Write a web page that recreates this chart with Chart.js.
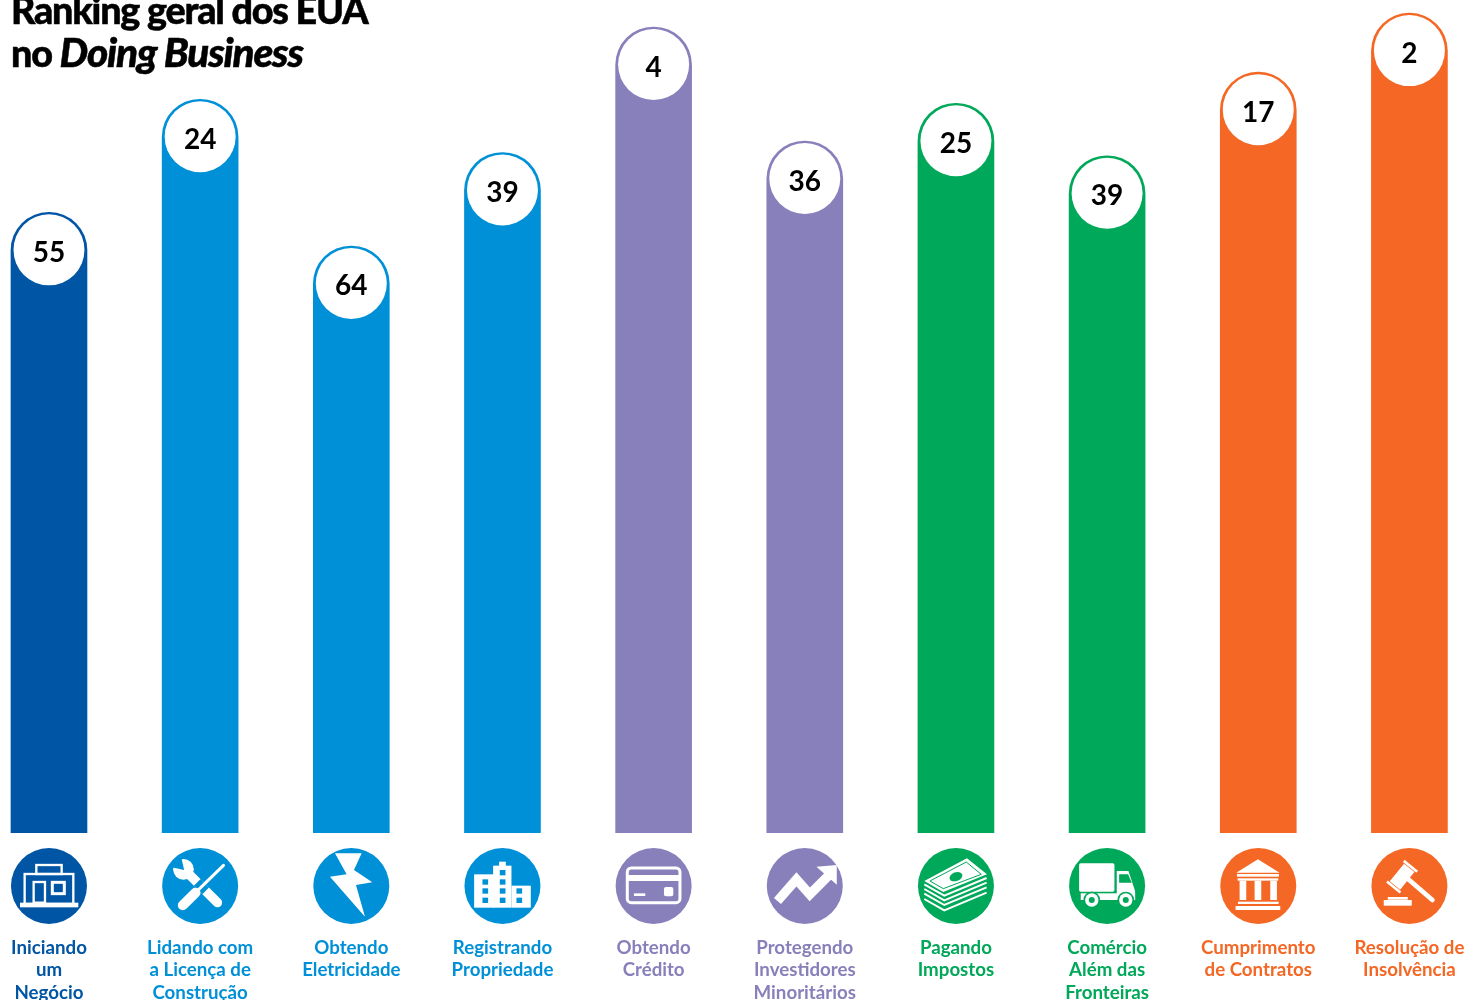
<!DOCTYPE html>
<html>
<head>
<meta charset="utf-8">
<title>Ranking geral dos EUA no Doing Business</title>
<script src="https://cdn.jsdelivr.net/npm/chart.js@4/dist/chart.umd.js"></script>
<style>
  html, body { margin: 0; padding: 0; background: #fff; overflow: hidden; width: 1465px; height: 1000px; }
  #wrap { position: absolute; left: -27px; top: 0; width: 1512px; height: 1000px; }
  #title { position: absolute; left: 11px; top: -11px; font: 900 37.7px/42px Lato, sans-serif; letter-spacing: -1.2px; color: #000; white-space: nowrap; -webkit-text-stroke: 0.5px #000; }
  #title i { font-size: 40.5px; }
</style>
</head>
<body>
<div id="wrap"><canvas id="myChart"></canvas></div>
<div id="title">Ranking geral dos EUA<br>no <i>Doing Business</i></div>
<script>
const categories = [
  ['Iniciando', 'um', 'Negócio'],
  ['Lidando com', 'a Licença de', 'Construção'],
  ['Obtendo', 'Eletricidade'],
  ['Registrando', 'Propriedade'],
  ['Obtendo', 'Crédito'],
  ['Protegendo', 'Investidores', 'Minoritários'],
  ['Pagando', 'Impostos'],
  ['Comércio', 'Além das', 'Fronteiras'],
  ['Cumprimento', 'de Contratos'],
  ['Resolução de', 'Insolvência']
];
const scores = [75.7, 89.5, 71.6, 83, 98.3, 84.4, 89, 82.6, 92.8, 100];
const ranks = [55, 24, 64, 39, 4, 36, 25, 39, 17, 2];

const NAVY = '#0055a4', BLUE = '#0090d7', PURPLE = '#8880bb', GREEN = '#00a859', ORANGE = '#f46724';
const colors = [NAVY, BLUE, BLUE, BLUE, PURPLE, PURPLE, GREEN, GREEN, ORANGE, ORANGE];

function poly(ctx, pts) {
  ctx.beginPath();
  pts.forEach((p, i) => i ? ctx.lineTo(p[0], p[1]) : ctx.moveTo(p[0], p[1]));
  ctx.closePath();
  ctx.fill();
}
function line(ctx, pts, w, cap) {
  ctx.beginPath();
  pts.forEach((p, i) => i ? ctx.lineTo(p[0], p[1]) : ctx.moveTo(p[0], p[1]));
  ctx.lineWidth = w;
  ctx.lineCap = cap || 'butt';
  ctx.lineJoin = 'miter';
  ctx.stroke();
}
function disc(ctx, x, y, r) {
  ctx.beginPath();
  ctx.arc(x, y, r, 0, Math.PI * 2);
  ctx.fill();
}

// pictograms, drawn in units of a third of a pixel around the circle centre
const icons = [
  function shop(ctx, fg) {
    ctx.strokeStyle = fg; ctx.fillStyle = fg;
    ctx.lineWidth = 7;
    ctx.strokeRect(-38, -63, 76, 27);
    ctx.strokeRect(-73, -36, 146, 90);
    ctx.strokeRect(-46, -12, 34, 62);
    ctx.lineWidth = 9;
    ctx.strokeRect(10, -11, 36, 34);
    ctx.fillRect(-87, 50, 175, 14);
  },
  function tools(ctx, fg, bg) {
    ctx.strokeStyle = fg; ctx.fillStyle = fg;
    line(ctx, [[-30, -32], [52, 50]], 28, 'round');
    disc(ctx, -50, -50, 31);
    ctx.fillStyle = bg;
    poly(ctx, [[-48, -48], [-58, -92], [-92, -58]]);
    ctx.strokeStyle = bg;
    line(ctx, [[-6, 12], [14, -8]], 36);
    ctx.strokeStyle = fg;
    line(ctx, [[-52, 58], [-14, 20]], 30, 'round');
    line(ctx, [[-14, 20], [70, -62]], 9, 'round');
  },
  function bolt(ctx, fg) {
    ctx.fillStyle = fg;
    poly(ctx, [[-49, -98], [31, -98], [8, -48], [63, -11], [14, -3], [41, 92], [-64, -28], [-14, -35]]);
  },
  function city(ctx, fg, bg) {
    ctx.fillStyle = fg;
    ctx.fillRect(-85, -35, 60, 100);
    ctx.fillRect(-28, -61, 55, 126);
    ctx.fillRect(-10, -73, 20, 14);
    ctx.fillRect(27, -1, 58, 66);
    ctx.fillStyle = bg;
    [[-60, -20], [-60, 7], [-60, 35], [-8, -48], [-8, -20], [-8, 7], [-8, 35], [42, 7], [42, 35]]
      .forEach(p => ctx.fillRect(p[0], p[1], 17, 16));
  },
  function card(ctx, fg) {
    ctx.strokeStyle = fg; ctx.fillStyle = fg;
    ctx.lineWidth = 9;
    ctx.beginPath();
    ctx.roundRect(-79, -54, 158, 104, 12);
    ctx.stroke();
    ctx.fillRect(-79, -33, 158, 18);
    ctx.fillRect(-59, 22, 34, 8);
    ctx.beginPath();
    ctx.roundRect(31, 3, 28, 28, 6);
    ctx.fill();
  },
  function arrow(ctx, fg) {
    ctx.strokeStyle = fg; ctx.fillStyle = fg;
    line(ctx, [[-82, 45], [-25, -20], [15, 25], [72, -32]], 28);
    poly(ctx, [[35, -58], [96, -63], [96, -4]]);
  },
  function money(ctx, fg, bg) {
    ctx.fillStyle = fg; ctx.strokeStyle = fg;
    poly(ctx, [[-95, -15], [33, -83], [93, -35], [-38, 18]]);
    ctx.fillStyle = bg;
    ctx.beginPath();
    ctx.ellipse(0, -28, 20, 13, -0.35, 0, Math.PI * 2);
    ctx.fill();
    ctx.strokeStyle = bg;
    ctx.lineWidth = 3;
    ctx.beginPath();
    ctx.moveTo(-78, -15); ctx.lineTo(31, -72); ctx.lineTo(76, -35); ctx.lineTo(-38, 8); ctx.closePath();
    ctx.stroke();
    ctx.strokeStyle = fg;
    [0, 14, 28, 44].forEach(d => line(ctx, [[-95, -5 + d], [-35, 29 + d], [92, -24 + d]], 6));
  },
  function truck(ctx, fg, bg) {
    ctx.fillStyle = fg;
    ctx.beginPath();
    ctx.roundRect(-84, -68, 106, 85, 5);
    ctx.fill();
    poly(ctx, [[29, -45], [64, -45], [84, 15], [84, 42], [29, 42]]);
    ctx.fillRect(-79, 22, 163, 20);
    ctx.fillStyle = bg;
    poly(ctx, [[36, -35], [63, -35], [74, -10], [36, -10]]);
    [-46, 56].forEach(x => {
      ctx.fillStyle = bg; disc(ctx, x, 42, 25);
      ctx.fillStyle = fg; disc(ctx, x, 42, 20);
      ctx.fillStyle = bg; disc(ctx, x, 42, 9);
    });
  },
  function temple(ctx, fg) {
    ctx.fillStyle = fg;
    poly(ctx, [[-66, -40], [-1, -80], [64, -40]]);
    ctx.fillRect(-64, -36, 126, 8);
    ctx.fillRect(-62, -23, 122, 7);
    [-56, -11, 36].forEach(x => ctx.fillRect(x, -16, 20, 58));
    ctx.fillRect(-61, 47, 122, 7);
    ctx.fillRect(-68, 60, 134, 12);
  },
  function gavel(ctx, fg) {
    ctx.fillStyle = fg; ctx.strokeStyle = fg;
    line(ctx, [[-5, -22], [69, 42]], 14, 'round');
    ctx.save();
    ctx.translate(-22, -28);
    ctx.rotate(0.68);
    ctx.fillRect(-20, -34, 40, 68);
    ctx.fillRect(-26, -44, 52, 8);
    ctx.fillRect(-26, 36, 52, 8);
    ctx.restore();
    ctx.fillRect(-77, 42, 84, 17);
    ctx.fillRect(-65, 33, 60, 8);
  }
];

const markers = {
  id: 'markers',
  afterDatasetsDraw(chart) {
    const ctx = chart.ctx;
    const iconY = chart.chartArea.bottom + 53;
    chart.getDatasetMeta(0).data.forEach((bar, i) => {
      ctx.save();
      // white bubble with the rank
      ctx.fillStyle = '#fff';
      disc(ctx, bar.x, bar.y + 37.5, 35.5);
      ctx.fillStyle = '#000';
      ctx.font = '700 28px Lato, sans-serif';
      ctx.textAlign = 'center';
      ctx.textBaseline = 'middle';
      ctx.fillText(String(ranks[i]), bar.x, bar.y + 40.5);
      // icon below the axis
      ctx.fillStyle = colors[i];
      disc(ctx, bar.x, iconY, 38);
      ctx.translate(bar.x, iconY);
      ctx.scale(1 / 3, 1 / 3);
      icons[i](ctx, '#fff', colors[i]);
      ctx.restore();
    });
  }
};

new Chart(document.getElementById('myChart'), {
  type: 'bar',
  data: {
    labels: categories,
    datasets: [{
      data: scores,
      backgroundColor: colors,
      barThickness: 76,
      borderRadius: { topLeft: 38, topRight: 38, bottomLeft: 0, bottomRight: 0 },
      borderSkipped: 'bottom'
    }]
  },
  options: {
    responsive: true,
    maintainAspectRatio: false,
    animation: false,
    layout: { padding: { left: 0.4 } },
    plugins: { legend: { display: false }, tooltip: { enabled: false } },
    scales: {
      y: { display: false, min: 0, max: 101.6 },
      x: {
        grid: { display: false },
        border: { display: false },
        afterFit(scale) {
          scale.height = 167;
          scale.paddingLeft = 0;
          scale.paddingRight = 0;
        },
        ticks: {
          autoSkip: false,
          maxRotation: 0,
          padding: 96,
          color: ctx => colors[ctx.index],
          font: { family: 'Lato, sans-serif', size: 18.7, weight: '700', lineHeight: 1.19 }
        }
      }
    }
  },
  plugins: [markers]
});
</script>
</body>
</html>
